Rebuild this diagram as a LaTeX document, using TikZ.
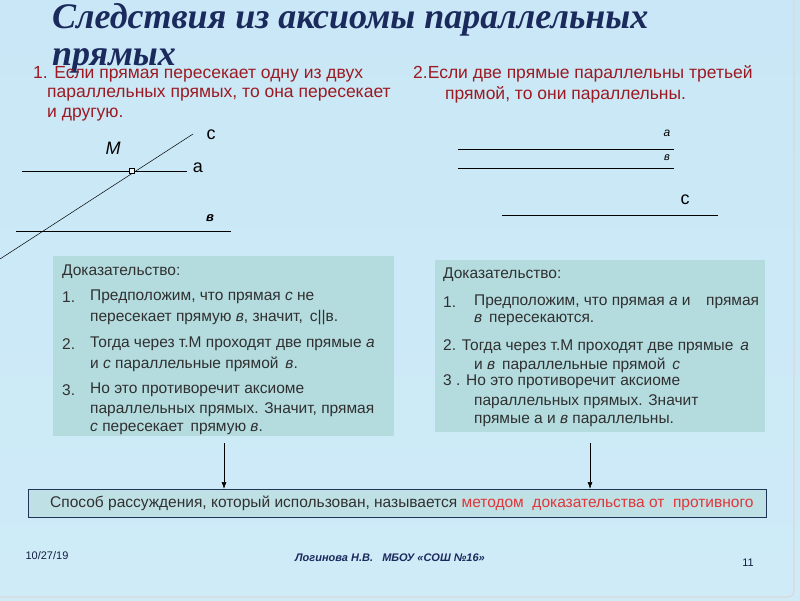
\documentclass[tikz,border=0pt]{standalone}
\usepackage{fontspec}
\setmainfont{Liberation Sans}
\newfontfamily\titlefont{Liberation Serif}
\usetikzlibrary{arrows.meta}
\definecolor{titleblue}{HTML}{1B2A5C}
\definecolor{darkred}{HTML}{9C1A22}
\definecolor{brightred}{HTML}{E0353A}
\definecolor{boxteal}{HTML}{B4DCDF}
\definecolor{sumteal}{HTML}{BFE1E5}
\definecolor{sumline}{HTML}{1D3557}
\definecolor{bodygray}{HTML}{303030}
\definecolor{bgtop}{HTML}{C9E7F6}
\definecolor{bgmid}{HTML}{F0F9FD}
\definecolor{bgbot}{HTML}{CFEBF8}
\begin{document}
\begin{tikzpicture}[x=1pt,y=-1pt,
  rule/.style={text=darkred,anchor=west,inner sep=0pt,font=\fontsize{17.5}{20}\selectfont},
  txt/.style={text=bodygray,anchor=west,inner sep=0pt,font=\fontsize{15.5}{18}\selectfont},
  proofbox/.style={fill=boxteal,draw=none,anchor=north west,inner sep=0pt},
  lbl/.style={inner sep=0pt,font=\fontsize{18}{18}\selectfont}]
\useasboundingbox (0,0) rectangle (800,600);
% background
\shade[top color=bgtop, middle color=bgmid, bottom color=bgbot] (0,0) rectangle (800,600);
\draw[black!15,line width=1.2pt,rounded corners=6pt] (-10,-10) rectangle (794,597);
% title
\node[anchor=base west,inner sep=0pt,text=titleblue,font=\titlefont\bfseries\itshape\fontsize{36}{36}\selectfont] (title1) at (52,28) {Следствия из аксиомы параллельных};
\node[anchor=base west,inner sep=0pt,text=titleblue,font=\titlefont\bfseries\itshape\fontsize{36}{36}\selectfont] (title2) at (52,65) {прямых};
% the two rules
\node[rule] (r1a) at (33,74) {1. Если прямая пересекает одну из двух};
\node[rule] (r1b) at (47,95) {параллельных прямых, то она пересекает};
\node[rule] (r1c) at (47,115) {и другую.};
\node[rule] (r2a) at (413,74) {2.Если две прямые параллельны третьей};
\node[rule] (r2b) at (445,95) {прямой, то они параллельны.};
% left figure
\draw[line width=0.7pt] (22,171) -- (187,171);
\draw[line width=0.7pt] (16,231) -- (231,231);
\draw[line width=0.5pt] (0,259) -- (193,134);
\draw[line width=0.7pt,fill=bgtop!40] (129.5,168.5) rectangle (134.5,173.5);
\node[lbl,font=\itshape\fontsize{18}{18}\selectfont] (labM) at (113,148) {M};
\node[lbl] (labc) at (211,135) {c};
\node[lbl] (laba) at (198,168) {a};
\node[lbl,font=\bfseries\itshape\fontsize{13}{13}\selectfont] (labb) at (210,218) {в};
% right figure
\draw[line width=0.7pt] (458,149) -- (674,149);
\draw[line width=0.7pt] (458,168) -- (674,168);
\draw[line width=0.7pt] (502,215) -- (718,215);
\node[lbl,font=\itshape\fontsize{12}{12}\selectfont] (labRa) at (667,133) {a};
\node[lbl,font=\itshape\fontsize{11}{11}\selectfont] (labRb) at (667,158) {в};
\node[lbl] (labRc) at (685,200) {c};
% proof boxes
\node[proofbox,minimum width=341,minimum height=180] (boxL) at (53,256) {};
\node[proofbox,minimum width=330,minimum height=172] (boxR) at (435,260) {};
\foreach \n/\x/\y/\t in {0/62/272/{Доказательство:},
    1/62/297/{1.}, 2/90/297/{Предположим, что прямая \textit{c} не},
    3/90/318/{пересекает прямую \textit{в}, значит,\, с||в.},
    4/62/344/{2.}, 5/90/344/{Тогда через т.М проходят две прямые \textit{a}},
    6/90/364/{и \textit{c} параллельные прямой\, \textit{в}.},
    7/62/390/{3.}, 8/90/390/{Но это противоречит аксиоме},
    9/90/410/{параллельных прямых. Значит, прямая},
    10/90/429/{\textit{c} пересекает\, прямую \textit{в}.}}
  \node[txt] (pL\n) at (\x,\y) {\t};
\foreach \n/\x/\y/\t in {0/443/275/{Доказательство:},
    1/443/302/{1.}, 2/474/302/{Предположим, что прямая \textit{a} и\quad прямая},
    3/474/320/{\textit{в}\, пересекаются.},
    4/443/347/{2. Тогда через т.М проходят две прямые\, \textit{a}},
    5/474/365/{и \textit{в}\, параллельные прямой\, \textit{c}},
    6/443/382/{3 . Но это противоречит аксиоме},
    7/474/402/{параллельных прямых. Значит},
    8/474/421/{прямые а и \textit{в} параллельны.}}
  \node[txt] (pR\n) at (\x,\y) {\t};
% conclusion
\node[fill=sumteal,draw=sumline,line width=0.8pt,anchor=north west,inner sep=0pt,minimum width=738,minimum height=28] (sum) at (28,489) {};
\node[txt] (sumtext) at (50,503) {Способ рассуждения, который использован, называется \textcolor{brightred}{методом\ \ доказательства от\ \ противного}};
\coordinate (arrL) at (224,443);
\coordinate (arrR) at (590,443);
\draw[line width=0.7pt,-{Latex[length=7pt,width=5pt]}] (arrL) -- (arrL |- sum.north);
\draw[line width=0.7pt,-{Latex[length=7pt,width=5pt]}] (arrR) -- (arrR |- sum.north);
% footer
\node[text=titleblue!70!black,inner sep=0pt,font=\fontsize{11}{11}\selectfont] (date) at (47,556) {10/27/19};
\node[text=titleblue,inner sep=0pt,font=\bfseries\itshape\fontsize{11}{11}\selectfont] (author) at (390,558) {Логинова Н.В.\ \ \ МБОУ «СОШ №16»};
\node[text=titleblue!70!black,inner sep=0pt,font=\fontsize{11}{11}\selectfont] (page) at (748,563) {11};
\end{tikzpicture}
\end{document}
